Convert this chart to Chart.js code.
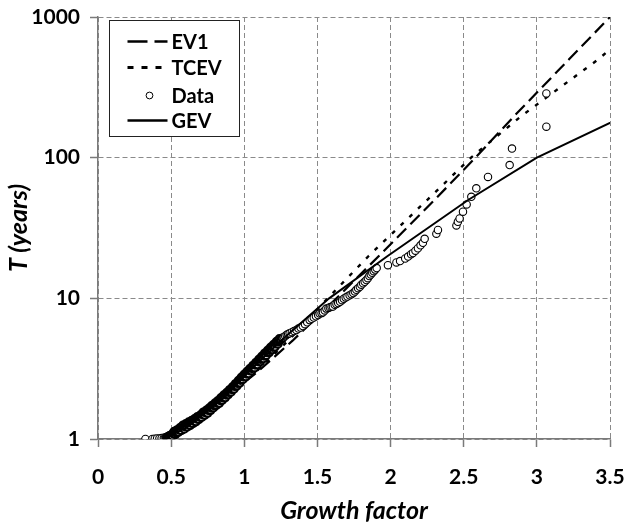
<!DOCTYPE html>
<html>
<head>
<meta charset="utf-8">
<script src="https://cdn.jsdelivr.net/npm/chart.js@4/dist/chart.umd.min.js"></script>
<style>
  html, body { margin: 0; padding: 0; background: #fff; }
  #wrap { width: 627px; height: 528px; }
</style>
</head>
<body>
<div id="wrap"><canvas id="chart" width="627" height="528"></canvas></div>
<script>
// Axis ticks
const xTicks = [0, 0.5, 1, 1.5, 2, 2.5, 3, 3.5];
const yTicks = [1, 10, 100, 1000];

// Observed growth factors and their return periods (years)
const growthFactor = [
  0.324, 0.372, 0.388, 0.404, 0.420, 0.435,
  0.450, 0.457, 0.465, 0.472, 0.480, 0.487, 0.495, 0.502, 0.510, 0.517,
  0.525, 0.532, 0.540, 0.547, 0.555, 0.562, 0.570, 0.577, 0.585, 0.592, 0.600,
  0.605, 0.610, 0.615, 0.620, 0.625, 0.630, 0.635, 0.640, 0.645, 0.650,
  0.655, 0.660, 0.665, 0.670, 0.675, 0.680, 0.685, 0.690, 0.695, 0.700,
  0.705, 0.710, 0.715, 0.720, 0.725, 0.730, 0.735, 0.740, 0.745, 0.750,
  0.755, 0.760, 0.765, 0.770, 0.775, 0.780, 0.785, 0.790, 0.795, 0.800,
  0.805, 0.810, 0.815, 0.820, 0.825, 0.830, 0.835, 0.840, 0.845, 0.850,
  0.855, 0.860, 0.865, 0.870, 0.875, 0.880, 0.885, 0.890, 0.895, 0.900,
  0.905, 0.910, 0.915, 0.920, 0.925, 0.930, 0.935, 0.940, 0.945, 0.950,
  0.955, 0.960, 0.965, 0.970, 0.975, 0.980, 0.985, 0.990, 0.995, 1.000,
  1.007, 1.015, 1.022, 1.030, 1.037, 1.045, 1.052, 1.060, 1.067, 1.075,
  1.082, 1.090, 1.097, 1.105, 1.112, 1.120, 1.127, 1.135, 1.142, 1.150,
  1.157, 1.165, 1.172, 1.180, 1.187, 1.195, 1.202, 1.210, 1.217, 1.225,
  1.232, 1.240, 1.250, 1.260, 1.270, 1.280, 1.290, 1.300,
  1.310, 1.325, 1.340, 1.356, 1.370, 1.385, 1.400, 1.415, 1.430, 1.447,
  1.460, 1.475, 1.490, 1.505, 1.515, 1.528, 1.538, 1.550, 1.561, 1.575,
  1.585, 1.596, 1.606, 1.618, 1.630, 1.642, 1.655, 1.668, 1.680, 1.693,
  1.705, 1.720, 1.733, 1.745, 1.756, 1.766, 1.778, 1.790, 1.800, 1.812,
  1.823, 1.835, 1.845, 1.855, 1.865, 1.875, 1.885, 1.895, 1.905,
  1.982, 2.040, 2.065, 2.100, 2.120, 2.140, 2.153, 2.170, 2.187, 2.205,
  2.221, 2.233, 2.313, 2.324, 2.450, 2.460, 2.472, 2.495, 2.520, 2.552,
  2.586, 2.666, 2.814, 2.830, 3.065, 3.065
];
const returnPeriod = [
  1.00, 1.00, 1.005, 1.008, 1.01, 1.015,
  1.02, 1.02, 1.03, 1.03, 1.04, 1.05, 1.06, 1.07, 1.08, 1.09,
  1.10, 1.11, 1.13, 1.14, 1.16, 1.17, 1.19, 1.20, 1.22, 1.23, 1.24,
  1.25, 1.26, 1.27, 1.28, 1.29, 1.29, 1.30, 1.31, 1.32, 1.33,
  1.34, 1.35, 1.36, 1.37, 1.39, 1.40, 1.41, 1.42, 1.43, 1.44,
  1.46, 1.47, 1.49, 1.50, 1.51, 1.53, 1.54, 1.55, 1.57, 1.58,
  1.60, 1.61, 1.63, 1.65, 1.66, 1.68, 1.70, 1.72, 1.73, 1.75,
  1.77, 1.79, 1.80, 1.82, 1.84, 1.86, 1.88, 1.90, 1.92, 1.95,
  1.97, 1.99, 2.01, 2.03, 2.06, 2.08, 2.10, 2.13, 2.15, 2.17,
  2.20, 2.23, 2.25, 2.28, 2.31, 2.34, 2.37, 2.40, 2.43, 2.46,
  2.49, 2.52, 2.55, 2.59, 2.62, 2.66, 2.69, 2.73, 2.76, 2.80,
  2.85, 2.90, 2.96, 3.01, 3.06, 3.12, 3.18, 3.23, 3.29, 3.36,
  3.42, 3.48, 3.55, 3.62, 3.69, 3.76, 3.83, 3.90, 3.97, 4.05,
  4.12, 4.20, 4.27, 4.35, 4.42, 4.50, 4.58, 4.66, 4.75, 4.83,
  4.92, 5.00, 5.09, 5.20, 5.30, 5.40, 5.50, 5.58,
  5.64, 5.75, 5.85, 5.95, 6.10, 6.20, 6.36, 6.55, 6.75, 7.00,
  7.15, 7.30, 7.45, 7.60, 7.80, 7.85, 7.95, 8.20, 8.45, 8.55,
  8.65, 8.70, 8.75, 9.00, 9.10, 9.25, 9.45, 9.70, 9.95, 10.15,
  10.3, 10.5, 10.7, 10.9, 11.2, 11.5, 11.8, 12.1, 12.5, 12.8,
  13.1, 13.5, 13.9, 14.4, 14.8, 15.2, 15.6, 16.0, 16.4,
  17.2, 18.0, 18.4, 19.2, 19.8, 20.6, 21.0, 21.8, 22.7, 23.8,
  24.8, 26.5, 28.8, 30.6, 33.0, 35.0, 37.0, 41.3, 46.5, 52.7,
  60.5, 73.0, 88.6, 116, 166, 286
];

// Further observations scattered either side of the dense part of the sample
const growthFactor2 = [
  0.51, 0.52, 0.53, 0.54, 0.55, 0.56, 0.57, 0.58, 0.59, 0.60,
  0.61, 0.62, 0.63, 0.64, 0.65, 0.66, 0.67, 0.68, 0.69, 0.70,
  0.71, 0.72, 0.73, 0.74, 0.75, 0.76, 0.77, 0.78, 0.79, 0.80,
  0.81, 0.82, 0.83, 0.84, 0.85, 0.86, 0.87, 0.88, 0.89, 0.90,
  0.91, 0.92, 0.93, 0.94, 0.95, 0.96, 0.97, 0.98, 0.99, 1.00,
  1.01, 1.02, 1.03, 1.04, 1.05, 1.06, 1.07, 1.08, 1.09, 1.10,
  1.11, 1.12, 1.13, 1.14, 1.15, 1.16, 1.17, 1.18, 1.19, 1.20,
  1.21, 1.22, 1.23, 1.24
];
const returnPeriod2 = [
  1.05, 1.13, 1.08, 1.16, 1.12, 1.20, 1.15, 1.25, 1.18, 1.28,
  1.22, 1.32, 1.25, 1.35, 1.29, 1.39, 1.33, 1.44, 1.38, 1.48,
  1.43, 1.55, 1.48, 1.60, 1.53, 1.66, 1.60, 1.73, 1.67, 1.80,
  1.74, 1.87, 1.80, 1.96, 1.89, 2.05, 1.97, 2.14, 2.07, 2.24,
  2.16, 2.35, 2.27, 2.47, 2.39, 2.60, 2.51, 2.74, 2.65, 2.88,
  2.78, 3.03, 2.92, 3.17, 3.06, 3.33, 3.21, 3.50, 3.38, 3.68,
  3.55, 3.87, 3.73, 4.07, 3.93, 4.27, 4.12, 4.48, 4.32, 4.69,
  4.52, 4.92, 4.74, 5.15
];

// Fitted distributions: growth factor at selected return periods
const ev1Growth  = [0.69, 0.88, 1.09, 1.33, 1.63, 1.92, 2.30, 2.58, 2.85, 3.22, 3.50];
const ev1Period  = [1.5, 2, 3, 5, 10, 20, 50, 100, 200, 500, 1000];
const tcevGrowth = [0.70, 0.88, 1.08, 1.30, 1.57, 1.85, 2.25, 2.55, 2.90, 3.42, 3.76];
const tcevPeriod = [1.5, 2, 3, 5, 10, 20, 50, 100, 200, 500, 1000];
const gevGrowth  = [0.48, 0.60, 0.72, 0.87, 1.03, 1.25, 1.58, 1.98, 2.53, 3.00, 3.61];
const gevPeriod  = [1.04, 1.2, 1.5, 2, 3, 5, 10, 20, 50, 100, 200];

const pts = (xs, ys) => xs.map((x, i) => ({ x: x, y: ys[i] }));
// observations plotted in order of increasing growth factor
const observed = pts(growthFactor, returnPeriod)
  .concat(pts(growthFactor2, returnPeriod2))
  .sort((a, b) => a.x - b.x);

const FONT = 'Lato, "Liberation Sans", sans-serif';
const GRID = '#8a8a8a';
const AXIS = '#7a7a7a';

// Legend drawn as a boxed panel in the upper-left of the plot area
const boxLegend = {
  id: 'boxLegend',
  afterDraw(chart) {
    const ctx = chart.ctx;
    const a = chart.chartArea;
    const bx = a.left + 11.5, by = a.top + 3.5, bw = 130, bh = 116;
    ctx.save();
    ctx.fillStyle = '#fff';
    ctx.fillRect(bx, by, bw, bh);
    ctx.strokeStyle = '#222';
    ctx.lineWidth = 1;
    ctx.strokeRect(bx, by, bw, bh);
    const rows = [21, 47, 75, 100];
    const x0 = bx + 18, x1 = bx + 58, tx = bx + 62;
    chart.data.datasets.forEach((ds, i) => {
      const y = by + rows[i];
      if (ds.showLine) {
        ctx.beginPath();
        ctx.setLineDash(ds.legendDash || []);
        ctx.lineWidth = ds.borderWidth + 0.4;
        ctx.strokeStyle = ds.borderColor;
        ctx.moveTo(x0, y);
        ctx.lineTo(x1, y);
        ctx.stroke();
        ctx.setLineDash([]);
      } else {
        ctx.beginPath();
        ctx.arc((x0 + x1) / 2 + 2, y, 3.4, 0, Math.PI * 2);
        ctx.fillStyle = '#fff';
        ctx.fill();
        ctx.lineWidth = 1;
        ctx.strokeStyle = '#000';
        ctx.stroke();
      }
      ctx.fillStyle = '#000';
      ctx.font = 'bold 20px ' + FONT;
      ctx.textBaseline = 'middle';
      ctx.textAlign = 'left';
      ctx.fillText(ds.label, tx, y + 1);
    });
    ctx.restore();
  }
};

new Chart(document.getElementById('chart'), {
  type: 'scatter',
  data: {
    datasets: [
      {
        label: 'EV1', data: pts(ev1Growth, ev1Period), showLine: true,
        borderColor: '#000', borderWidth: 2.2, borderDash: [13, 6], legendDash: [20, 7],
        pointRadius: 0, fill: false, order: 3
      },
      {
        label: 'TCEV', data: pts(tcevGrowth, tcevPeriod), showLine: true,
        borderColor: '#000', borderWidth: 2.4, borderDash: [4, 8], legendDash: [6, 8],
        pointRadius: 0, fill: false, order: 2
      },
      {
        label: 'Data', data: observed, showLine: false,
        pointStyle: 'circle', pointRadius: 3.7,
        // overlapping markers in the crowded part of the sample merge into a dark band
        borderWidth: c => (c.raw && c.raw.x > 0.47 && c.raw.x < 1.27) ? 2.2 : 1.1,
        borderColor: '#000', backgroundColor: '#fff', order: 1
      },
      {
        label: 'GEV', data: pts(gevGrowth, gevPeriod), showLine: true,
        borderColor: '#000', borderWidth: 2, borderDash: [],
        pointRadius: 0, fill: false, order: 0
      }
    ]
  },
  options: {
    responsive: false,
    animation: false,
    devicePixelRatio: 1,
    layout: { padding: { left: 4, right: 17, top: 17, bottom: 2 } },
    plugins: { legend: { display: false }, tooltip: { enabled: false } },
    scales: {
      x: {
        type: 'linear', min: 0, max: 3.5,
        afterBuildTicks: s => { s.ticks = xTicks.map(v => ({ value: v })); },
        afterFit: s => { s.height = 87; s.paddingLeft = 0; s.paddingRight = 0; },
        ticks: {
          color: '#000', padding: 18, maxRotation: 0,
          font: { family: FONT, size: 21, weight: 'bold' },
          callback: v => String(v)
        },
        grid: { color: GRID, lineWidth: 1, tickLength: 8, tickColor: AXIS, tickWidth: 1.5, tickBorderDash: [] },
        border: { display: true, color: AXIS, width: 1.5, dash: [5, 3] },
        title: {
          display: true, text: 'Growth factor', color: '#000', padding: 0,
          font: { family: FONT, size: 25, weight: 'bold', style: 'italic', lineHeight: 1.2 }
        }
      },
      y: {
        type: 'logarithmic', min: 1, max: 1000,
        afterBuildTicks: s => { s.ticks = yTicks.map(v => ({ value: v })); },
        afterFit: s => { s.width = 94; s.paddingTop = 0; s.paddingBottom = 0; },
        ticks: {
          color: '#000', padding: 10,
          font: { family: FONT, size: 21, weight: 'bold' },
          callback: v => String(v)
        },
        grid: { color: GRID, lineWidth: 1, tickLength: 8, tickColor: AXIS, tickWidth: 1.5, tickBorderDash: [] },
        border: { display: true, color: AXIS, width: 1.5, dash: [5, 3] },
        title: {
          display: true, text: 'T (years)', color: '#000', padding: 0,
          font: { family: FONT, size: 25, weight: 'bold', style: 'italic', lineHeight: 1.2 }
        }
      }
    }
  },
  plugins: [boxLegend]
});
</script>
</body>
</html>
